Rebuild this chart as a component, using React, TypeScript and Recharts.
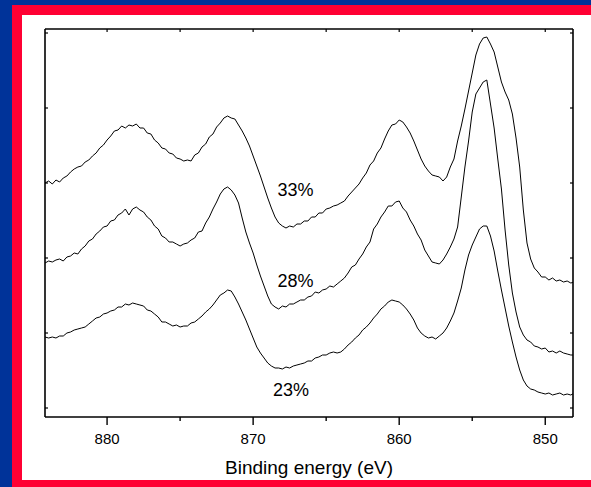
import React from 'react';
import { LineChart, Line, XAxis, YAxis, ReferenceDot, Label } from 'recharts';

// Binding energies (eV), 0.25 eV steps from 884.25 down to 848.0
const bindingEnergy = [
  884.25, 884.0, 883.75, 883.5, 883.25, 883.0, 882.75, 882.5, 882.25, 882.0,
  881.75, 881.5, 881.25, 881.0, 880.75, 880.5, 880.25, 880.0, 879.75, 879.5,
  879.25, 879.0, 878.75, 878.5, 878.25, 878.0, 877.75, 877.5, 877.25, 877.0,
  876.75, 876.5, 876.25, 876.0, 875.75, 875.5, 875.25, 875.0, 874.75, 874.5,
  874.25, 874.0, 873.75, 873.5, 873.25, 873.0, 872.75, 872.5, 872.25, 872.0,
  871.75, 871.5, 871.25, 871.0, 870.75, 870.5, 870.25, 870.0, 869.75, 869.5,
  869.25, 869.0, 868.75, 868.5, 868.25, 868.0, 867.75, 867.5, 867.25, 867.0,
  866.75, 866.5, 866.25, 866.0, 865.75, 865.5, 865.25, 865.0, 864.75, 864.5,
  864.25, 864.0, 863.75, 863.5, 863.25, 863.0, 862.75, 862.5, 862.25, 862.0,
  861.75, 861.5, 861.25, 861.0, 860.75, 860.5, 860.25, 860.0, 859.75, 859.5,
  859.25, 859.0, 858.75, 858.5, 858.25, 858.0, 857.75, 857.5, 857.25, 857.0,
  856.75, 856.5, 856.25, 856.0, 855.75, 855.5, 855.25, 855.0, 854.75, 854.5,
  854.25, 854.0, 853.75, 853.5, 853.25, 853.0, 852.75, 852.5, 852.25, 852.0,
  851.75, 851.5, 851.25, 851.0, 850.75, 850.5, 850.25, 850.0, 849.75, 849.5,
  849.25, 849.0, 848.75, 848.5, 848.25, 848.0,
];

// Stacked Ni 2p spectra (intensity, arbitrary units, vertically offset)
const spectrum33 = [
  225, 227, 224, 228, 226, 230, 232, 236, 239, 241,
  242, 246, 248, 252, 255, 260, 263, 268, 272, 277,
  278, 282, 280, 283, 282, 284, 280, 280, 275, 274,
  268, 265, 260, 259, 255, 254, 250, 249, 247, 248,
  247, 253, 255, 261, 264, 271, 274, 281, 285, 290,
  292, 290, 289, 283, 277, 270, 262, 252, 242, 232,
  221, 210, 200, 191, 185, 182, 180, 182, 181, 184,
  184, 187, 187, 191, 191, 195, 195, 199, 200, 202,
  203, 205, 207, 212, 216, 220, 224, 230, 235, 243,
  247, 255, 260, 269, 277, 283, 284, 288, 286, 281,
  275, 267, 258, 249, 242, 237, 233, 232, 231, 227,
  231, 241, 249, 267, 282, 299, 317, 335, 353, 364,
  370, 371, 364, 356, 341, 326, 316, 308, 294, 270,
  241, 198, 165, 149, 140, 136, 131, 131, 128, 130,
  127, 128, 126, 127, 125, 126,
];

const spectrum28 = [
  145, 147, 146, 148, 149, 147, 151, 152, 155, 154,
  159, 162, 167, 169, 174, 177, 181, 182, 187, 188,
  193, 195, 199, 193, 199, 201, 198, 196, 191, 188,
  182, 179, 172, 170, 166, 166, 164, 162, 164, 165,
  168, 170, 176, 177, 185, 191, 199, 206, 214, 219,
  221, 218, 213, 205, 190, 176, 165, 155, 143, 132,
  122, 112, 104, 101, 99, 102, 101, 104, 104, 106,
  108, 108, 111, 112, 116, 115, 118, 119, 122, 121,
  124, 127, 130, 135, 141, 143, 149, 154, 161, 166,
  179, 184, 191, 196, 202, 202, 206, 207, 200, 196,
  188, 182, 174, 168, 158, 152, 146, 145, 144, 148,
  154, 161, 169, 181, 211, 241, 267, 296, 314, 320,
  326, 328, 304, 280, 249, 219, 178, 143, 115, 96,
  81, 73, 68, 66, 62, 61, 59, 60, 56, 57,
  55, 57, 55, 54, 53, 53,
];

const spectrum23 = [
  71, 70, 71, 70, 72, 72, 75, 76, 78, 79,
  80, 81, 84, 87, 90, 91, 94, 95, 97, 98,
  101, 101, 104, 103, 105, 104, 103, 102, 98, 97,
  94, 91, 86, 86, 84, 82, 83, 81, 82, 82,
  85, 86, 89, 92, 96, 99, 103, 108, 113, 115,
  118, 117, 111, 104, 96, 88, 79, 70, 61, 55,
  50, 45, 42, 40, 40, 39, 41, 40, 42, 43,
  44, 45, 47, 47, 50, 51, 53, 53, 55, 56,
  55, 56, 59, 63, 66, 70, 73, 78, 81, 85,
  90, 94, 99, 102, 106, 108, 107, 106, 103, 99,
  94, 88, 80, 75, 72, 70, 71, 69, 72, 75,
  80, 87, 95, 107, 120, 138, 153, 163, 171, 179,
  182, 182, 172, 157, 137, 118, 100, 82, 66, 51,
  38, 28, 22, 19, 18, 16, 15, 14, 15, 13,
  14, 15, 13, 14, 13, 15,
];

// Curve annotations
const seriesLabels = ['33%', '28%', '23%'];
const labelEnergy = [867.1, 867.1, 867.4];
const labelLevel = [219, 128, 18.5];

const energyTicks = [880, 875, 870, 865, 860, 855, 850];
const intensityTicks = [0, 75, 150, 225, 300, 375];
const energyDomain = [848.1, 884.25];
const intensityDomain = [-9, 379];

const rows = bindingEnergy.map((e, i) => ({
  energy: e,
  s33: spectrum33[i],
  s28: spectrum28[i],
  s23: spectrum23[i],
}));

const FONT = '"Liberation Sans", Arial, Helvetica, sans-serif';
const BLUE = '#003399';
const RED = '#FF0033';

const BottomTick = (props: any) => {
  const { x, y, payload } = props;
  const major = payload.value % 10 === 0;
  return (
    <g>
      <line x1={x} x2={x} y1={y} y2={y + (major ? 8 : 4)} stroke="#000" strokeWidth={1.4} />
      {major && (
        <text x={x} y={y + 27} textAnchor="middle" fontSize={15} fontFamily={FONT} fill="#000">
          {payload.value}
        </text>
      )}
    </g>
  );
};

const TopTick = (props: any) => {
  const { x, y } = props;
  return <line x1={x} x2={x} y1={y} y2={y + 3} stroke="#000" strokeWidth={1.2} />;
};

const LeftTick = (props: any) => {
  const { x, y } = props;
  return <line x1={x} x2={x + 3} y1={y} y2={y} stroke="#000" strokeWidth={1.2} />;
};

const RightTick = (props: any) => {
  const { x, y } = props;
  return <line x1={x} x2={x - 3} y1={y} y2={y} stroke="#000" strokeWidth={1.2} />;
};

const AxisTitle = (props: any) => {
  const vb = props.viewBox || {};
  return (
    <text
      x={vb.x + vb.width / 2}
      y={vb.y + 57}
      textAnchor="middle"
      fontSize={19}
      fontFamily={FONT}
      fill="#000"
    >
      Binding energy (eV)
    </text>
  );
};

const CurveLabel = (text: string) => (p: any) => (
  <text x={p.cx} y={p.cy + 6.5} textAnchor="middle" fontSize={18} fontFamily={FONT} fill="#000">
    {text}
  </text>
);

const axisLine = { stroke: '#000', strokeWidth: 1.6 };

// each curve is tied to one x axis and one y axis so that all four frame sides render
const curves = [
  { key: 's33', xId: 'top', yId: 'left' },
  { key: 's28', xId: 'bottom', yId: 'right' },
  { key: 's23', xId: 'bottom', yId: 'left' },
];

export default function App() {
  return (
    <div style={{ position: 'absolute', left: 0, top: 0, width: 591, height: 487, background: '#fff', overflow: 'hidden' }}>
      <div style={{ position: 'absolute', left: 0, top: 0, width: 591, height: 5, background: BLUE }} />
      <div style={{ position: 'absolute', left: 0, top: 0, width: 12, height: 487, background: BLUE }} />
      <div style={{ position: 'absolute', left: 12, top: 5, width: 579, height: 10, background: RED }} />
      <div style={{ position: 'absolute', left: 12, top: 5, width: 10, height: 482, background: RED }} />
      <div style={{ position: 'absolute', left: 12, top: 480, width: 579, height: 7, background: RED }} />
      <div style={{ position: 'absolute', left: 0, top: 0 }}>
        <LineChart
          width={591}
          height={487}
          data={rows}
          margin={{ top: 28, right: 17, bottom: 0, left: 44 }}
        >
          <XAxis
            xAxisId="bottom"
            dataKey="energy"
            type="number"
            reversed
            domain={energyDomain}
            allowDataOverflow
            ticks={energyTicks}
            interval={0}
            tick={<BottomTick />}
            tickLine={false}
            tickSize={0}
            tickMargin={0}
            axisLine={axisLine}
            height={70}
          >
            <Label content={<AxisTitle />} />
          </XAxis>
          <XAxis
            xAxisId="top"
            orientation="top"
            dataKey="energy"
            type="number"
            reversed
            domain={energyDomain}
            allowDataOverflow
            ticks={energyTicks}
            interval={0}
            tick={<TopTick />}
            tickLine={false}
            tickSize={0}
            tickMargin={0}
            axisLine={axisLine}
            height={1}
          />
          <YAxis
            yAxisId="left"
            type="number"
            domain={intensityDomain}
            allowDataOverflow
            ticks={intensityTicks}
            interval={0}
            tick={<LeftTick />}
            tickLine={false}
            tickSize={0}
            tickMargin={0}
            axisLine={axisLine}
            width={1}
          />
          <YAxis
            yAxisId="right"
            orientation="right"
            type="number"
            domain={intensityDomain}
            allowDataOverflow
            ticks={intensityTicks}
            interval={0}
            tick={<RightTick />}
            tickLine={false}
            tickSize={0}
            tickMargin={0}
            axisLine={axisLine}
            width={1}
          />
          {curves.map((c) => (
            <Line
              key={c.key}
              xAxisId={c.xId}
              yAxisId={c.yId}
              dataKey={c.key}
              type="linear"
              stroke="#000"
              strokeWidth={1}
              dot={false}
              activeDot={false}
              isAnimationActive={false}
            />
          ))}
          {seriesLabels.map((text, i) => (
            <ReferenceDot
              key={text}
              xAxisId="bottom"
              yAxisId="left"
              x={labelEnergy[i]}
              y={labelLevel[i]}
              r={0}
              shape={CurveLabel(text)}
            />
          ))}
        </LineChart>
      </div>
    </div>
  );
}
